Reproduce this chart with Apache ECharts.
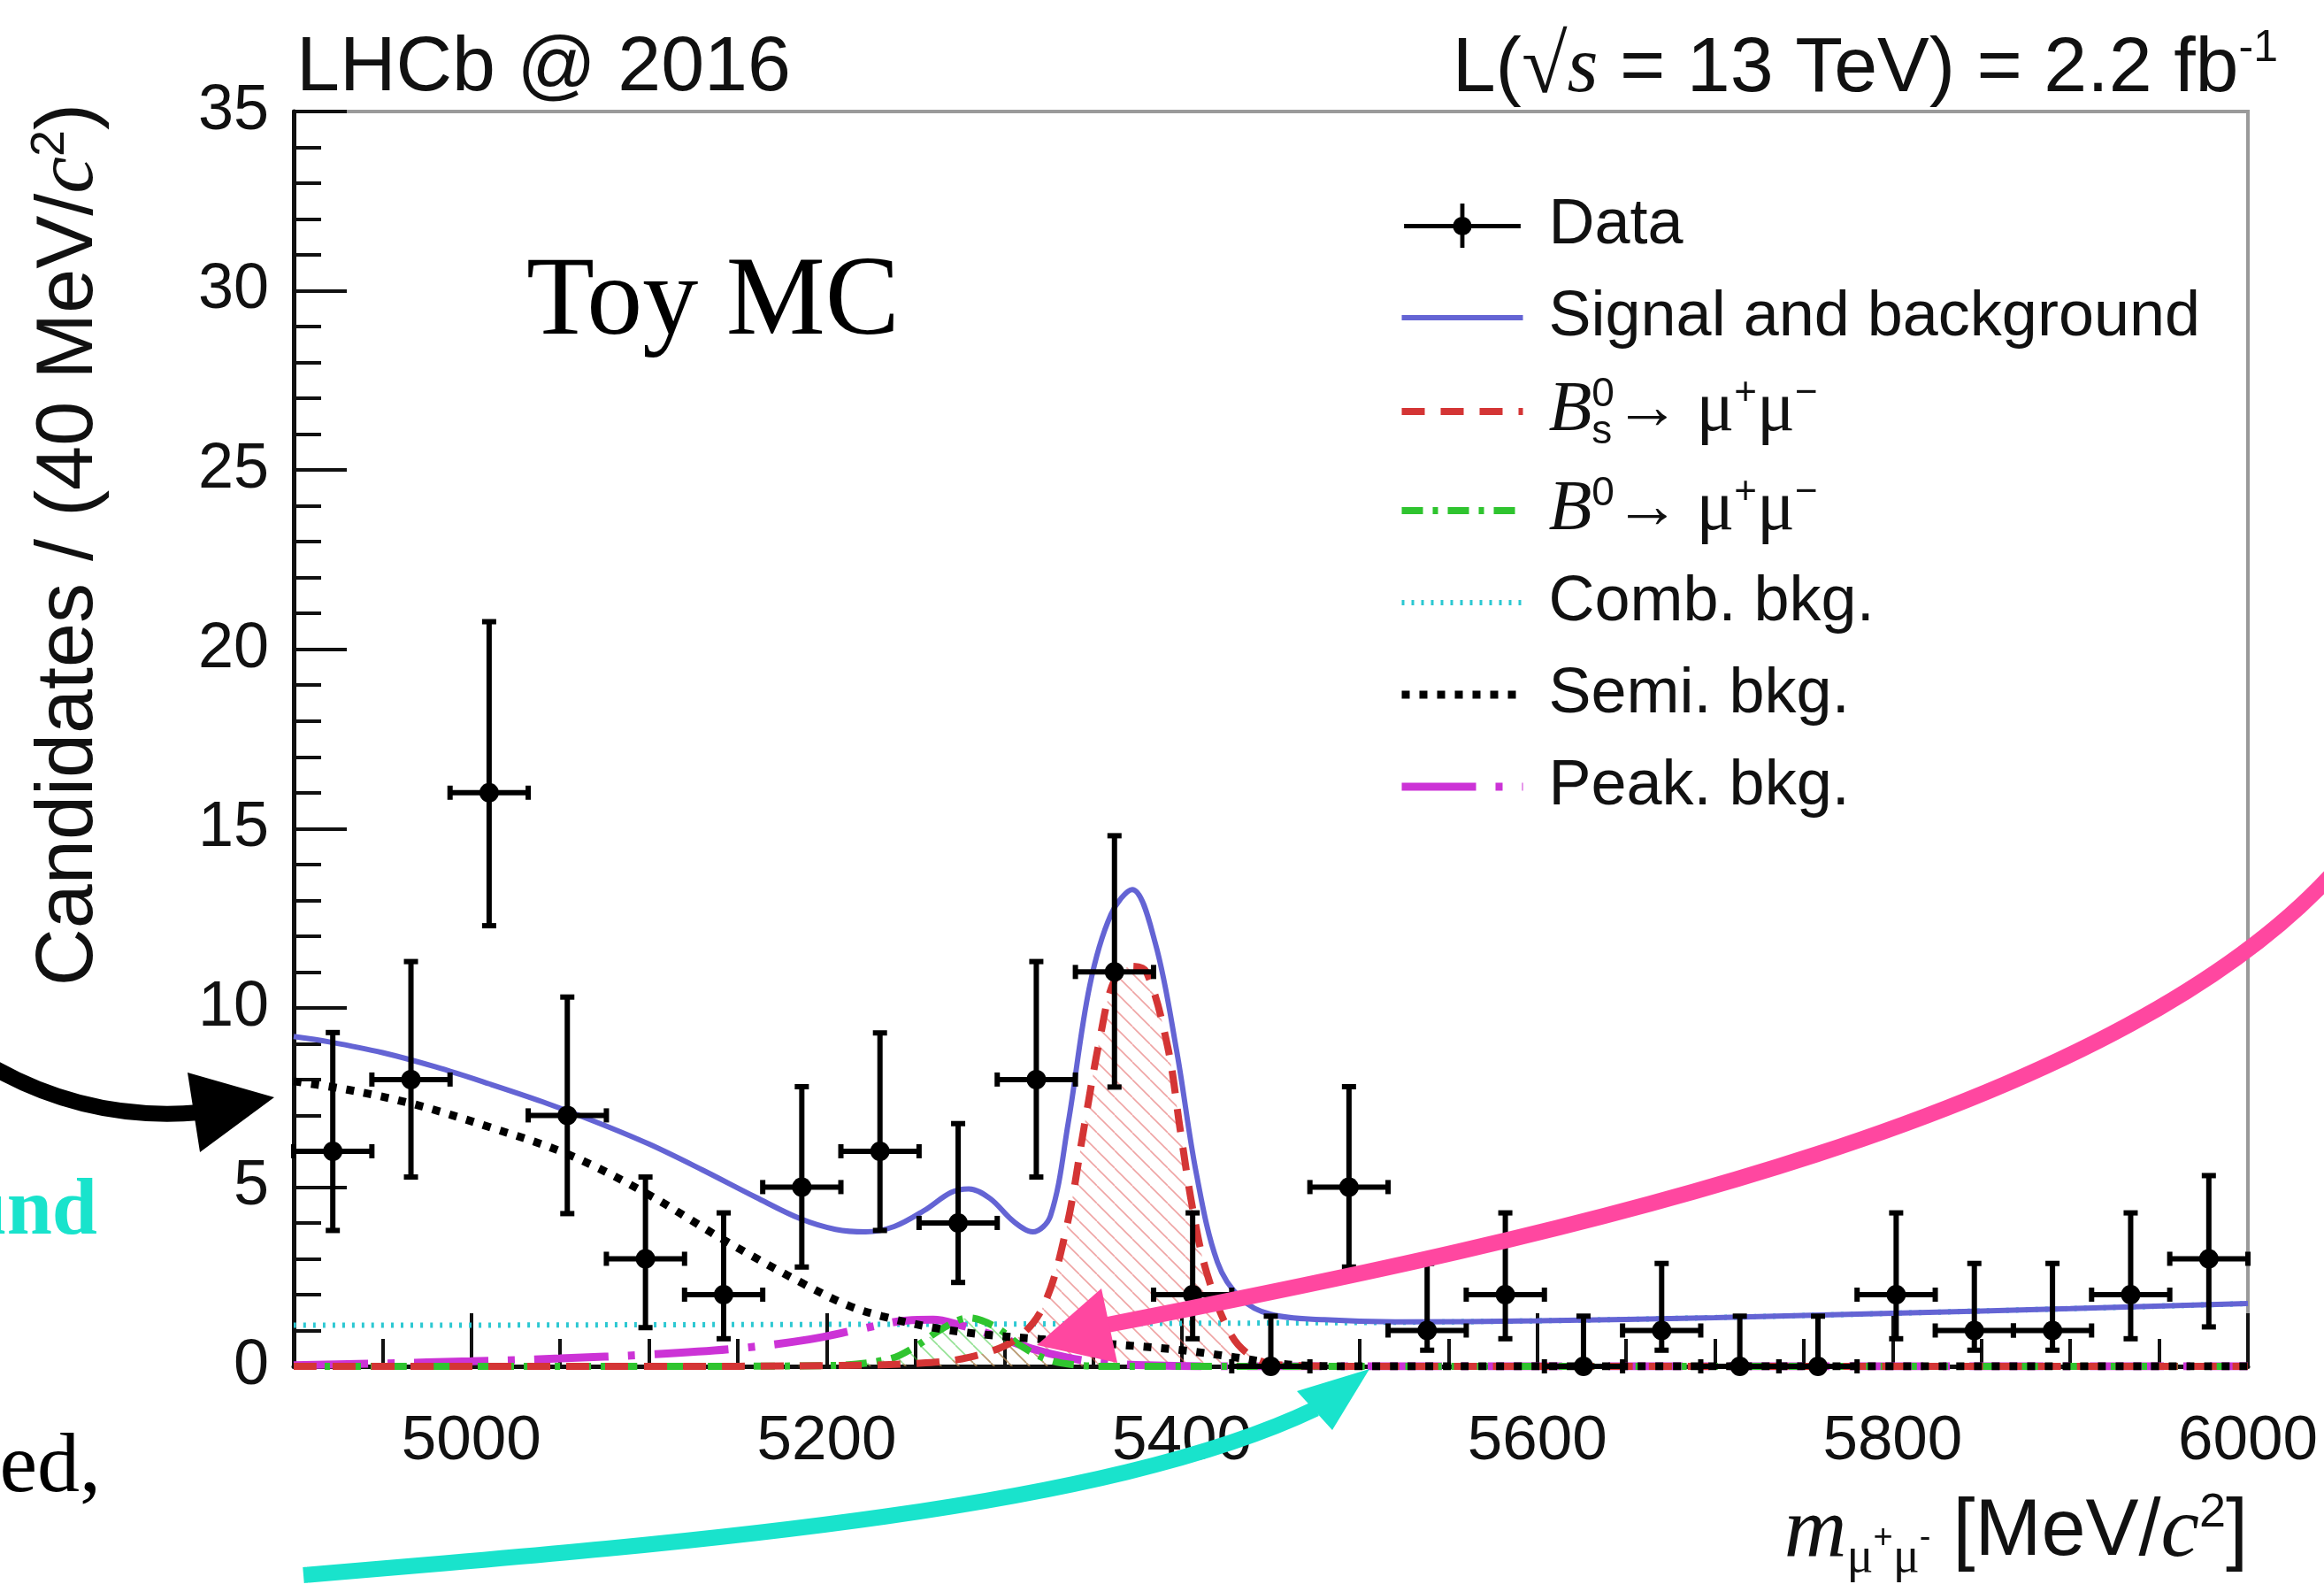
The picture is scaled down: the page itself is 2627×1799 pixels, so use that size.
<!DOCTYPE html>
<html>
<head>
<meta charset="utf-8">
<title>B(s) -> mu mu toy fit, LHCb 2016</title>
<script src="https://cdn.jsdelivr.net/npm/echarts@6/dist/echarts.min.js"></script>
<style>
  html, body { margin: 0; padding: 0; background: #fff; }
  #chart { width: 2627px; height: 1799px; }
</style>
</head>
<body>
<div id="chart"></div>
<script>
// ---- binned toy data (MeV/c^2, candidates per bin) ----
const binCenters = [4922, 4966, 5010, 5054, 5098, 5142, 5186, 5230, 5274, 5318, 5362, 5406, 5450,
                    5494, 5538, 5582, 5626, 5670, 5714, 5758, 5802, 5846, 5890, 5934, 5978];
const binWidth = 44;
const counts   = [6, 8, 16, 7, 3, 2, 5, 6, 4, 8, 11, 2, 0, 5, 1, 2, 0, 1, 0, 0, 2, 1, 1, 2, 3];
const errLow   = [3.79, 5.28, 12.29, 4.26, 1.08, 0.77, 2.77, 3.79, 2.34, 5.28, 7.79, 0.77, 0,
                  2.77, 0.45, 0.77, 0, 0.45, 0, 0, 0.77, 0.45, 0.45, 0.77, 1.10];
const errHigh  = [9.31, 11.29, 20.77, 10.30, 5.28, 4.28, 7.80, 9.30, 6.77, 11.29, 14.80, 4.28, 1.40,
                  7.80, 2.87, 4.28, 1.40, 2.87, 1.40, 1.40, 4.28, 2.87, 2.87, 4.28, 5.32];

// ---- fit model curves [mass, candidates] ----
const fitTotal = [[4900, 9.20], [4920, 9.05], [4950, 8.75], [4980, 8.35], [5010, 7.88], [5040, 7.38],
  [5070, 6.82], [5100, 6.20], [5130, 5.48], [5160, 4.72], [5185, 4.12], [5205, 3.82], [5222, 3.75],
  [5238, 3.90], [5255, 4.35], [5270, 4.85], [5280, 4.95], [5292, 4.68], [5305, 4.05], [5316, 3.75],
  [5326, 4.20], [5336, 6.80], [5348, 10.60], [5360, 12.60], [5372, 13.30], [5385, 11.80], [5397, 8.80],
  [5408, 5.40], [5420, 2.90], [5433, 1.90], [5450, 1.45], [5480, 1.30], [5520, 1.24], [5600, 1.27],
  [5700, 1.36], [5800, 1.48], [5900, 1.61], [6000, 1.75]];
const bsSignal = [[4900, 0], [5000, 0], [5100, 0], [5200, 0.02], [5250, 0.08], [5280, 0.25], [5306, 0.74],
  [5322, 1.68], [5335, 3.87], [5345, 6.70], [5354, 9.20], [5362, 10.77], [5372, 11.16], [5380, 11.00],
  [5392, 8.90], [5399, 6.60], [5406, 4.40], [5414, 2.60], [5428, 0.85], [5442, 0.20], [5460, 0.03],
  [5500, 0], [5600, 0], [5800, 0], [6000, 0]];
const b0Signal = [[4900, 0], [5100, 0], [5200, 0.02], [5235, 0.20], [5250, 0.55], [5265, 1.05], [5280, 1.35],
  [5295, 1.10], [5310, 0.55], [5325, 0.18], [5340, 0.04], [5360, 0], [5500, 0], [6000, 0]];
const combBkg = [[4900, 1.15], [5000, 1.15], [5100, 1.16], [5200, 1.17], [5300, 1.18], [5400, 1.20],
  [5500, 1.22], [5600, 1.27], [5700, 1.36], [5800, 1.48], [5900, 1.61], [6000, 1.75]];
const semiBkg = [[4900, 7.95], [4930, 7.72], [4967, 7.32], [5011, 6.66], [5055, 5.90], [5099, 4.81],
  [5143, 3.50], [5187, 2.30], [5212, 1.70], [5231, 1.40], [5260, 1.08], [5290, 0.88], [5320, 0.76],
  [5360, 0.62], [5400, 0.45], [5430, 0.25], [5450, 0.10], [5470, 0.02], [5500, 0], [6000, 0]];
const peakBkg = [[4900, 0.03], [4950, 0.08], [5000, 0.14], [5050, 0.22], [5100, 0.33], [5150, 0.50],
  [5190, 0.75], [5220, 1.05], [5245, 1.28], [5260, 1.30], [5275, 1.15], [5295, 0.85], [5315, 0.50],
  [5335, 0.25], [5355, 0.10], [5380, 0.03], [5420, 0], [6000, 0]];

// ---- axis ticks ----
const xMajorTicks = [5000, 5200, 5400, 5600, 5800, 6000];
const yRange = [0, 35];
const xRange = [4900, 6000];

const SANS = 'Liberation Sans';
const SERIF = 'Liberation Serif';
const INK = '#111';

// line styles shared by the plot and the legend keys
const STYLE = {
  total: { color: '#6464d4', width: 6, dash: 'solid' },
  bs:    { color: '#d43535', width: 8, dash: [26, 18] },
  b0:    { color: '#2fc42f', width: 8, dash: [24, 11, 6, 11] },
  comb:  { color: '#2cc8d2', width: 6, dash: [3, 8] },
  semi:  { color: '#000000', width: 9, dash: [9, 11] },
  peak:  { color: '#cc33d6', width: 9, dash: [84, 22, 8, 22] }
};

// diagonal hatching used under the signal peaks
function hatch(color) {
  const c = document.createElement('canvas');
  c.width = 20; c.height = 20;
  const g = c.getContext('2d');
  g.strokeStyle = color; g.lineWidth = 1.6;
  for (const o of [-20, 0, 20]) { g.beginPath(); g.moveTo(o, 0); g.lineTo(o + 20, 20); g.stroke(); }
  return c;
}

const chart = echarts.init(document.getElementById('chart'), null, { renderer: 'canvas' });

// legend labels with sub/superscripts
const legendLabels = {
  'Data': '{g| }Data',
  'Signal and background': '{g| }Signal and background',
  'Bs0→μ+μ−': '{g| }{B|B}{s|s}{z|0}{ar|→ }{mu|μ}{p|+}{mu|μ}{p|−}',
  'B0→μ+μ−': '{g| }{B|B}{z|0}{ar|→ }{mu|μ}{p|+}{mu|μ}{p|−}',
  'Comb. bkg.': '{g| }Comb. bkg.',
  'Semi. bkg.': '{g| }Semi. bkg.',
  'Peak. bkg.': '{g| }Peak. bkg.'
};

function curve(name, data, st, extra) {
  return Object.assign({
    type: 'line', name, data, xAxisIndex: 0, yAxisIndex: 0,
    smooth: 0.35, symbol: 'none', showSymbol: false, clip: true,
    lineStyle: { color: st.color, width: st.width, type: st.dash, cap: 'butt' },
    itemStyle: { color: st.color }, emphasis: { disabled: true }
  }, extra || {});
}

function legendLine(name, st) {
  return { name, itemStyle: { opacity: 0 }, lineStyle: { width: st.width, type: st.dash, color: st.color } };
}

const option = {
  animation: false,
  backgroundColor: '#fff',
  grid: { left: 332, right: 86, top: 126, bottom: 255, show: true, borderColor: '#9a9a9a', borderWidth: 4 },
  xAxis: [
    {
      type: 'value', min: xRange[0], max: xRange[1], interval: 50, position: 'bottom',
      axisLine: { show: true, onZero: false, lineStyle: { color: INK, width: 5 } },
      axisTick: { show: true, inside: true, length: 31, lineStyle: { color: INK, width: 4 } },
      axisLabel: {
        customValues: xMajorTicks, fontFamily: SANS, fontSize: 71, color: INK, margin: 50,
        formatter: v => (xMajorTicks.indexOf(v) >= 0 ? String(v) : '')
      },
      splitLine: { show: false }
    },
    {
      type: 'value', min: xRange[0], max: xRange[1], interval: 50, position: 'bottom',
      axisLine: { show: false },
      axisTick: { show: true, inside: true, length: 60, customValues: xMajorTicks, lineStyle: { color: INK, width: 4 } },
      axisLabel: { show: false },
      splitLine: { show: false }
    }
  ],
  yAxis: {
    type: 'value', min: yRange[0], max: yRange[1], interval: 5,
    axisLine: { show: true, lineStyle: { color: INK, width: 5 } },
    axisTick: { show: true, inside: true, length: 60, lineStyle: { color: INK, width: 4 } },
    minorTick: { show: true, splitNumber: 5, length: 31, lineStyle: { color: INK, width: 4 } },
    axisLabel: { fontFamily: SANS, fontSize: 72, color: INK, margin: 28 },
    splitLine: { show: false }
  },
  legend: {
    orient: 'vertical', left: 1580, top: 215, padding: 0,
    itemWidth: 137, itemHeight: 50, itemGap: 24, selectedMode: false,
    data: [
      { name: 'Data', icon: 'path://M0,24 L137,24 L137,29 L0,29 Z M66,0 L71,0 L71,52 L66,52 Z M57.5,26.5 A11,11 0 1,1 79.5,26.5 A11,11 0 1,1 57.5,26.5 Z' },
      legendLine('Signal and background', STYLE.total),
      legendLine('Bs0→μ+μ−', STYLE.bs),
      legendLine('B0→μ+μ−', STYLE.b0),
      legendLine('Comb. bkg.', STYLE.comb),
      legendLine('Semi. bkg.', STYLE.semi),
      legendLine('Peak. bkg.', STYLE.peak)
    ],
    formatter: name => legendLabels[name],
    textStyle: {
      fontFamily: SANS, fontSize: 72, color: INK, lineHeight: 80,
      rich: {
        g: { width: 24, fontSize: 72, fontFamily: SANS },
        B: { fontFamily: SERIF, fontStyle: 'italic', fontSize: 80, color: INK },
        s: { fontFamily: SANS, fontSize: 46, padding: [46, 0, 0, 0], width: 0, color: INK },
        z: { fontFamily: SANS, fontSize: 46, padding: [0, 0, 38, 0], color: INK },
        ar: { fontFamily: SERIF, fontSize: 74, color: INK },
        mu: { fontFamily: SERIF, fontSize: 80, color: INK },
        p: { fontFamily: SANS, fontSize: 44, padding: [0, 0, 40, 0], color: INK }
      }
    }
  },
  series: [
    curve('Comb. bkg.', combBkg, STYLE.comb),
    curve('Peak. bkg.', peakBkg, STYLE.peak),
    curve('B0→μ+μ−', b0Signal, STYLE.b0, {
      areaStyle: { color: { image: hatch('rgba(60,200,60,0.55)'), repeat: 'repeat' }, opacity: 1 }
    }),
    curve('Bs0→μ+μ−', bsSignal, STYLE.bs, {
      areaStyle: { color: { image: hatch('rgba(225,90,90,0.55)'), repeat: 'repeat' }, opacity: 1 }
    }),
    curve('Semi. bkg.', semiBkg, STYLE.semi),
    curve('Signal and background', fitTotal, STYLE.total),
    {
      type: 'custom', name: 'Data', xAxisIndex: 0, yAxisIndex: 0, clip: false, z: 5,
      itemStyle: { color: '#000' },
      encode: { x: 0, y: 1 },
      data: binCenters.map((x, i) => [x, counts[i], errLow[i], errHigh[i]]),
      renderItem: (params, api) => {
        const x = api.value(0), y = api.value(1), lo = api.value(2), hi = api.value(3);
        const c = api.coord([x, y]);
        const pl = api.coord([x - binWidth / 2, y]);
        const pr = api.coord([x + binWidth / 2, y]);
        const pLo = api.coord([x, lo]);
        const pHi = api.coord([x, hi]);
        const st = { stroke: '#000', lineWidth: 6 };
        const cap = 8;
        const children = [
          { type: 'line', shape: { x1: c[0], y1: pLo[1], x2: c[0], y2: pHi[1] }, style: st },
          { type: 'line', shape: { x1: pl[0], y1: c[1], x2: pr[0], y2: c[1] }, style: st },
          { type: 'line', shape: { x1: c[0] - cap, y1: pHi[1], x2: c[0] + cap, y2: pHi[1] }, style: st },
          { type: 'line', shape: { x1: pl[0], y1: c[1] - cap, x2: pl[0], y2: c[1] + cap }, style: st },
          { type: 'line', shape: { x1: pr[0], y1: c[1] - cap, x2: pr[0], y2: c[1] + cap }, style: st },
          { type: 'circle', shape: { cx: c[0], cy: c[1], r: 11 }, style: { fill: '#000' } }
        ];
        if (lo > 0) {
          children.push({ type: 'line', shape: { x1: c[0] - cap, y1: pLo[1], x2: c[0] + cap, y2: pLo[1] }, style: st });
        }
        return { type: 'group', children };
      }
    }
  ],
  graphic: [
    // axis titles
    {
      type: 'text', x: 79, y: 117, rotation: Math.PI / 2, z: 50,
      style: {
        text: 'Candidates / (40 MeV/{it|c}{sup|2})',
        align: 'right', verticalAlign: 'middle', textAlign: 'right', textVerticalAlign: 'middle',
        fontFamily: SANS, fontSize: 90, fill: INK,
        rich: {
          it: { fontFamily: SERIF, fontStyle: 'italic', fontSize: 94, fill: INK },
          sup: { fontFamily: SANS, fontSize: 54, padding: [0, 0, 44, 0], fill: INK }
        }
      }
    },
    {
      type: 'text', x: 2541, y: 1732, z: 50,
      style: {
        text: '{it|m}{sub|μ}{ss|+}{sub|μ}{ss|-} [MeV/{it|c}{sup|2}]',
        align: 'right', verticalAlign: 'middle', textAlign: 'right', textVerticalAlign: 'middle',
        fontFamily: SANS, fontSize: 90, fill: INK,
        rich: {
          it: { fontFamily: SERIF, fontStyle: 'italic', fontSize: 98, fill: INK },
          sub: { fontFamily: SERIF, fontSize: 56, padding: [58, 0, 0, 0], fill: INK },
          ss: { fontFamily: SANS, fontSize: 38, padding: [14, 0, 0, 0], fill: INK },
          sup: { fontFamily: SANS, fontSize: 54, padding: [0, 0, 44, 0], fill: INK }
        }
      }
    },
    // header texts
    {
      type: 'text', x: 335, y: 78, z: 50,
      style: { text: 'LHCb @ 2016', align: 'left', verticalAlign: 'middle', textAlign: 'left', textVerticalAlign: 'middle',
               fontFamily: SANS, fontSize: 88, fill: INK }
    },
    {
      type: 'text', x: 2575, y: 79, z: 50,
      style: {
        text: 'L({sq|√}{it|s} = 13 TeV) = 2.2 fb{sup|-1}',
        align: 'right', verticalAlign: 'middle', textAlign: 'right', textVerticalAlign: 'middle',
        fontFamily: SANS, fontSize: 88, fill: INK,
        rich: {
          sq: { fontFamily: SERIF, fontSize: 94, fill: INK },
          it: { fontFamily: SERIF, fontStyle: 'italic', fontSize: 90, fill: INK },
          sup: { fontFamily: SANS, fontSize: 50, padding: [0, 0, 48, 0], fill: INK }
        }
      }
    },
    {
      type: 'text', x: 595, y: 344, z: 50,
      style: { text: 'Toy MC', align: 'left', verticalAlign: 'middle', textAlign: 'left', textVerticalAlign: 'middle',
               fontFamily: SERIF, fontSize: 126, fill: '#000' }
    },
    // slide annotations around the plot
    {
      type: 'text', x: 110, y: 1370, z: 60,
      style: { text: 'background', align: 'right', verticalAlign: 'middle', textAlign: 'right', textVerticalAlign: 'middle',
               fontFamily: SERIF, fontWeight: 'bold', fontSize: 92, fill: '#19e3cc' }
    },
    {
      type: 'text', x: 114, y: 1660, z: 60,
      style: { text: 'used,', align: 'right', verticalAlign: 'middle', textAlign: 'right', textVerticalAlign: 'middle',
               fontFamily: SERIF, fontSize: 96, fill: '#000' }
    },
    // black arrow to the semileptonic background
    {
      type: 'bezierCurve', z: 60,
      shape: { x1: -10, y1: 1205, cpx1: 100, cpy1: 1268, x2: 226, y2: 1257 },
      style: { stroke: '#000', lineWidth: 18, fill: null }
    },
    {
      type: 'polygon', z: 61,
      shape: { points: [[212, 1212], [226, 1302], [310, 1240]] },
      style: { fill: '#000' }
    },
    // pink arrow to the peaking background
    {
      type: 'bezierCurve', z: 60,
      shape: { x1: 2660, y1: 960, cpx1: 2420, cpy1: 1260, cpx2: 1750, cpy2: 1400, x2: 1252, y2: 1497 },
      style: { stroke: '#ff47a0', lineWidth: 18, fill: null }
    },
    {
      type: 'polygon', z: 61,
      shape: { points: [[1245, 1456], [1263, 1540], [1172, 1520]] },
      style: { fill: '#ff47a0' }
    },
    // teal arrow to the combinatorial background
    {
      type: 'bezierCurve', z: 60,
      shape: { x1: 343, y1: 1780, cpx1: 800, cpy1: 1742, cpx2: 1250, cpy2: 1705, x2: 1487, y2: 1592 },
      style: { stroke: '#19e3cc', lineWidth: 18, fill: null }
    },
    {
      type: 'polygon', z: 61,
      shape: { points: [[1466, 1572], [1506, 1616], [1548, 1547]] },
      style: { fill: '#19e3cc' }
    }
  ]
};

chart.setOption(option);
</script>
</body>
</html>
